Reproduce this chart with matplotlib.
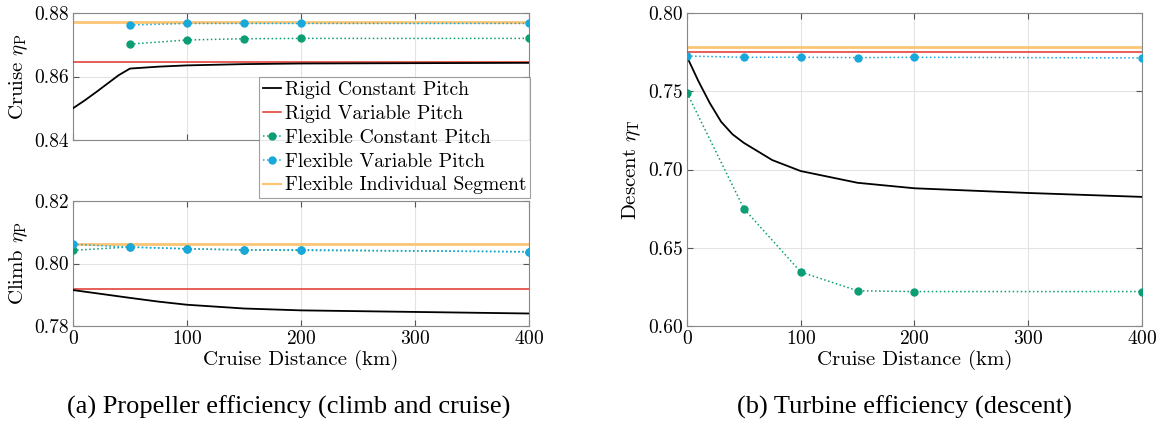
import matplotlib
matplotlib.use("Agg")
import matplotlib.pyplot as plt
import numpy as np

plt.rcParams["font.family"] = "cmr10"
plt.rcParams["mathtext.fontset"] = "cm"
plt.rcParams["axes.formatter.use_mathtext"] = True

# Cruise distance grid for the sampled flexible configurations (km)
dist_flex = [0, 50, 100, 150, 200, 400]
dist_flex_cruise = [50, 100, 150, 200, 400]
dist_rigid = [0, 10, 20, 30, 40, 50, 75, 100, 150, 200, 300, 400]

# Cruise propeller efficiency
cruise_rigid_const = [0.8500, 0.8524, 0.8550, 0.8577, 0.8604, 0.8625, 0.8631, 0.8635,
                      0.8639, 0.8641, 0.8642, 0.8643]
cruise_rigid_var = 0.8645
cruise_flex_const = [0.8702, 0.8715, 0.8719, 0.8720, 0.8720]
cruise_flex_var = [0.8762, 0.8767, 0.8767, 0.8767, 0.8767]
cruise_flex_seg = 0.8771

# Climb propeller efficiency
climb_rigid_const = [0.7915, 0.7910, 0.7905, 0.7900, 0.7895, 0.7890, 0.7878, 0.7868,
                     0.7856, 0.7850, 0.7845, 0.7840]
climb_rigid_var = 0.7917
climb_flex_const = [0.8042, 0.8053, 0.8047, 0.8043, 0.8042, 0.8038]
climb_flex_var = [0.8062, 0.8052, 0.8047, 0.8044, 0.8044, 0.8037]
climb_flex_seg = 0.8061

# Descent turbine efficiency
descent_rigid_const = [0.7720, 0.7565, 0.7425, 0.7305, 0.7225, 0.7170, 0.7060, 0.6990,
                       0.6915, 0.6880, 0.6850, 0.6825]
descent_rigid_var = 0.7750
descent_flex_const = [0.7490, 0.6750, 0.6345, 0.6225, 0.6220, 0.6220]
descent_flex_var = [0.7725, 0.7717, 0.7717, 0.7715, 0.7717, 0.7713]
descent_flex_seg = 0.7780

labels = ["Rigid Constant Pitch", "Rigid Variable Pitch", "Flexible Constant Pitch",
          "Flexible Variable Pitch", "Flexible Individual Segment"]

c_black = "#000000"
c_red = "#e2332b"
c_green = "#0b9e74"
c_blue = "#18a8dc"
c_yellow = "#fbc574"

W, H = 1163, 425
fig = plt.figure(figsize=(W / 100, H / 100), dpi=100)


def box(x0, y0, x1, y1):
    return [x0 / W, 1 - y1 / H, (x1 - x0) / W, (y1 - y0) / H]


ax_cr = fig.add_axes(box(73, 13, 529, 140))
ax_cl = fig.add_axes(box(73, 201, 529, 326))
ax_de = fig.add_axes(box(687, 13, 1142, 326))


def draw(ax, rc, rv, fc, fv, fs, xflex):
    ax.plot([0, 400], [fs, fs], color=c_yellow, lw=2.0, zorder=2)
    ax.plot([0, 400], [rv, rv], color=c_red, lw=1.1, zorder=3)
    ax.plot(dist_rigid, rc, color=c_black, lw=1.3, zorder=4)
    ax.plot(xflex, fc, color=c_green, lw=1.1, ls=":", marker="o", ms=5, zorder=5)
    ax.plot(xflex, fv, color=c_blue, lw=1.1, ls=":", marker="o", ms=5, zorder=6)


draw(ax_cr, cruise_rigid_const, cruise_rigid_var, cruise_flex_const, cruise_flex_var,
     cruise_flex_seg, dist_flex_cruise)
draw(ax_cl, climb_rigid_const, climb_rigid_var, climb_flex_const, climb_flex_var,
     climb_flex_seg, dist_flex)
draw(ax_de, descent_rigid_const, descent_rigid_var, descent_flex_const, descent_flex_var,
     descent_flex_seg, dist_flex)

for ax in (ax_cr, ax_cl, ax_de):
    ax.set_xlim(0, 400)
    ax.set_xticks([0, 100, 200, 300, 400])
    ax.grid(True, color="#e3e3e3", lw=0.8)
    ax.set_axisbelow(True)
    ax.tick_params(direction="in", length=4, labelsize=14, color="#555555",
                   top=True, right=True, pad=3)
    for s in ax.spines.values():
        s.set_color("#888888")
        s.set_linewidth(0.8)

ax_cr.set_ylim(0.84, 0.88)
ax_cr.set_yticks([0.84, 0.86, 0.88])
ax_cr.set_yticklabels(["0.84", "0.86", "0.88"])
ax_cr.set_xticklabels([])
ax_cr.set_ylabel(r"Cruise $\eta_\mathrm{P}$", fontsize=15, labelpad=3)

ax_cl.set_ylim(0.78, 0.82)
ax_cl.set_yticks([0.78, 0.80, 0.82])
ax_cl.set_yticklabels(["0.78", "0.80", "0.82"])
ax_cl.set_ylabel(r"Climb $\eta_\mathrm{P}$", fontsize=15, labelpad=3)
ax_cl.set_xlabel("Cruise Distance (km)", fontsize=15, labelpad=1)

ax_de.set_ylim(0.60, 0.80)
ax_de.set_yticks([0.60, 0.65, 0.70, 0.75, 0.80])
ax_de.set_yticklabels(["0.60", "0.65", "0.70", "0.75", "0.80"])
ax_de.set_ylabel(r"Descent $\eta_\mathrm{T}$", fontsize=15, labelpad=4)
ax_de.set_xlabel("Cruise Distance (km)", fontsize=15, labelpad=1)

handles = [
    plt.Line2D([], [], color=c_black, lw=1.3),
    plt.Line2D([], [], color=c_red, lw=1.1),
    plt.Line2D([], [], color=c_green, lw=1.1, ls=":", marker="o", ms=5),
    plt.Line2D([], [], color=c_blue, lw=1.1, ls=":", marker="o", ms=5),
    plt.Line2D([], [], color=c_yellow, lw=1.5),
]
leg = fig.legend(handles, labels, loc="upper left",
                 bbox_to_anchor=(259 / W, 1 - 77 / H), fontsize=14.2,
                 frameon=True, fancybox=False, edgecolor="#888888",
                 handlelength=0.9, handletextpad=0.2, borderpad=0.2,
                 labelspacing=0.3, borderaxespad=0)
leg.get_frame().set_linewidth(0.8)
leg.set_zorder(20)

cap_font = {"family": "Liberation Serif", "size": 19}
fig.text(289 / W, 1 - 407 / H, "(a) Propeller efficiency (climb and cruise)",
         ha="center", va="center", fontdict=cap_font)
fig.text(904 / W, 1 - 407 / H, "(b) Turbine efficiency (descent)",
         ha="center", va="center", fontdict=cap_font)

fig.savefig("out.png", dpi=100)
